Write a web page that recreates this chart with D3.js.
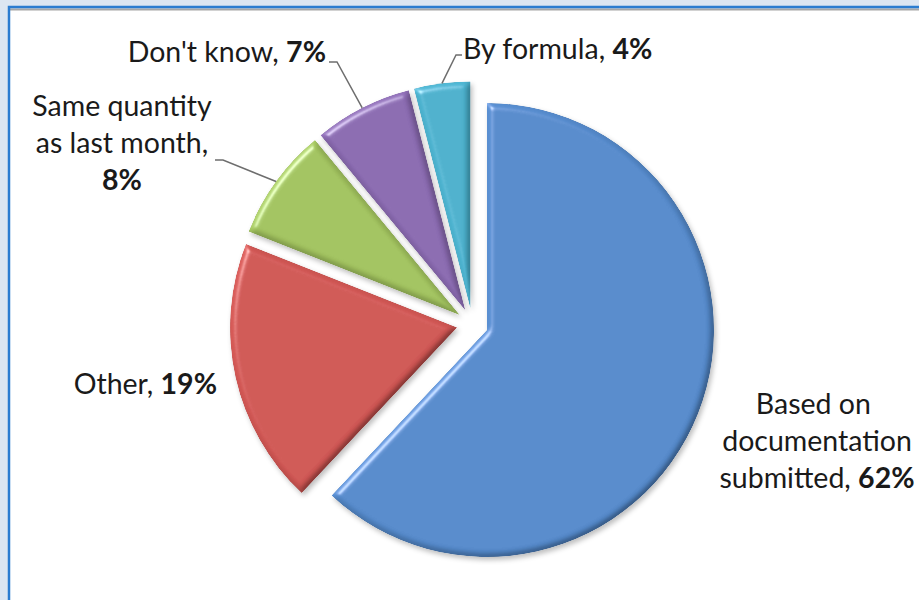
<!DOCTYPE html>
<html lang="en">
<head>
	<meta charset="UTF-8"/>
	<title>Exploded pie chart</title>
	<script src="https://d3js.org/d3.v7.min.js"></script>
	<style>
		body { margin: 0; background: #dce6f2; }
	</style>
</head>
<body>
	<div id="chart"></div>
	<script>
	//Window Size
	var w = 919;
	var h = 600;

	//Data
	var categories = ["Based on documentation submitted", "Other", "Same quantity as last month", "Don't know", "By formula"];
	var values = [62, 19, 8, 7, 4];
	//label text as it is wrapped in the chart (the percent goes after the last line)
	var labelLines = [["Based on ", "documentation", "submitted, "], ["Other, "], ["Same quantity", "as last month,", ""], ["Don't know, "], ["By formula, "]];
	var colors = ["#558acb", "#cf5653", "#a2c35f", "#8a6ab0", "#4bb0cc"];

	//Pie layout
	var cx = 472.4, cy = 324.2;
	var radius = 227;
	var explode = 15.7;
	var lineHeight = 37;

	//label placement (anchor point of the text, elbow of the leader line)
	var labelLayout = [
		{x: 817, y: 414, anchor: "middle", elbow: null},
		{x: 217, y: 394, anchor: "end", elbow: null},
		{x: 122, y: 116, anchor: "middle", elbow: [[215, 160], [223, 160]]},
		{x: 326, y: 62, anchor: "end", elbow: [[329, 62], [337, 62]]},
		{x: 463, y: 59, anchor: "start", elbow: [[462, 55], [456, 55]]}
	];

	var svg = d3.select("#chart")
				.append("svg")
				.attr("width", w)
				.attr("height", h);

	//frame
	svg.append("rect")
		.attr("x", 0).attr("y", 0)
		.attr("width", w).attr("height", h)
		.attr("fill", "#dce6f2");
	svg.append("rect")
		.attr("x", 10).attr("y", 9)
		.attr("width", w - 10).attr("height", h - 9)
		.attr("fill", "white");
	svg.append("path")
		.attr("d", "M10,9.5H" + w)
		.attr("stroke", "#a6a6a6")
		.attr("stroke-width", 2)
		.attr("fill", "none");
	svg.append("path")
		.attr("d", "M9," + h + "V7H" + w)
		.attr("stroke", "#2b7cd0")
		.attr("stroke-width", 2.5)
		.attr("fill", "none");

	//bevel filter (region given in the slice's own user space)
	var defs = svg.append("defs");
	var f = defs.append("filter")
		.attr("id", "bevel")
		.attr("filterUnits", "userSpaceOnUse")
		.attr("x", -w).attr("y", -h)
		.attr("width", 2 * w).attr("height", 2 * h);
	f.append("feGaussianBlur")
		.attr("in", "SourceAlpha")
		.attr("stdDeviation", 3)
		.attr("result", "blur");
	//soft shading: darker on the edges away from the light
	var light = f.append("feDiffuseLighting")
		.attr("in", "blur")
		.attr("surfaceScale", 5)
		.attr("diffuseConstant", 1)
		.attr("lighting-color", "white")
		.attr("result", "diffuse");
	light.append("feDistantLight")
		.attr("azimuth", 225)
		.attr("elevation", 50);
	var k1 = 0.75;
	f.append("feComposite")
		.attr("in", "SourceGraphic")
		.attr("in2", "diffuse")
		.attr("operator", "arithmetic")
		.attr("k1", k1)
		.attr("k2", 1 - k1 * Math.sin(50 * Math.PI / 180))
		.attr("k3", 0).attr("k4", 0)
		.attr("result", "shaded");
	//highlight on the edges that face the light
	var spec = f.append("feSpecularLighting")
		.attr("in", "blur")
		.attr("surfaceScale", 5)
		.attr("specularConstant", 0.8)
		.attr("specularExponent", 30)
		.attr("lighting-color", "white")
		.attr("result", "spec");
	spec.append("feDistantLight")
		.attr("azimuth", 225)
		.attr("elevation", 35);
	f.append("feComposite")
		.attr("in", "spec")
		.attr("in2", "SourceAlpha")
		.attr("operator", "in")
		.attr("result", "specIn");
	f.append("feComposite")
		.attr("in", "shaded")
		.attr("in2", "specIn")
		.attr("operator", "arithmetic")
		.attr("k1", 0).attr("k2", 1).attr("k3", 0.55).attr("k4", 0)
		.attr("result", "bright");
	f.append("feComposite")
		.attr("in", "bright")
		.attr("in2", "SourceAlpha")
		.attr("operator", "in")
		.attr("result", "lit");
	//drop shadow
	f.append("feGaussianBlur")
		.attr("in", "SourceAlpha")
		.attr("stdDeviation", 2.5)
		.attr("result", "sblur");
	f.append("feOffset")
		.attr("in", "sblur")
		.attr("dx", 2).attr("dy", 3)
		.attr("result", "soff");
	f.append("feFlood")
		.attr("flood-color", "#000")
		.attr("flood-opacity", 0.25);
	f.append("feComposite")
		.attr("in2", "soff")
		.attr("operator", "in")
		.attr("result", "shadow");
	var merge = f.append("feMerge");
	merge.append("feMergeNode").attr("in", "shadow");
	merge.append("feMergeNode").attr("in", "lit");

	var pie = d3.pie()
				.sort(null)
				.value(function(d) { return d; });

	var arcs = pie(values);

	var arc = d3.arc()
				.innerRadius(0)
				.outerRadius(radius);

	//arc at the rim, used for the end of leader lines
	var rimArc = d3.arc()
				.innerRadius(radius)
				.outerRadius(radius);

	function offset(d) {
		var mid = (d.startAngle + d.endAngle) / 2;
		return [explode * Math.sin(mid), -explode * Math.cos(mid)];
	}

	var g = svg.append("g")
		.attr("transform", "translate(" + cx + "," + cy + ")");

	g.selectAll("path.slice")
		.data(arcs)
		.enter()
		.append("path")
		.attr("class", "slice")
		.attr("d", arc)
		.attr("transform", function(d) {
			var o = offset(d);
			return "translate(" + o[0] + "," + o[1] + ")";
		})
		.attr("fill", function(d, i) { return colors[i]; })
		.attr("filter", "url(#bevel)");

	//leader lines
	svg.selectAll("polyline.leader")
		.data(arcs.filter(function(d, i) { return labelLayout[i].elbow; }))
		.enter()
		.append("polyline")
		.attr("class", "leader")
		.attr("points", function(d) {
			var o = offset(d);
			var c = rimArc.centroid(d);
			var pts = labelLayout[d.index].elbow.concat([[cx + o[0] + c[0], cy + o[1] + c[1]]]);
			return pts.map(function(p) { return p.join(","); }).join(" ");
		})
		.attr("fill", "none")
		.attr("stroke", "#6e6e6e")
		.attr("stroke-width", 1.5);

	//labels
	var labels = svg.selectAll("text.label")
		.data(arcs)
		.enter()
		.append("text")
		.attr("class", "label")
		.attr("text-anchor", function(d, i) { return labelLayout[i].anchor; })
		.attr("font-family", "Lato, 'Open Sans', sans-serif")
		.attr("font-size", "28.5px")
		.attr("fill", "#1a1a1a")
		.style("white-space", "pre");

	labels.each(function(d, i) {
		var t = d3.select(this);
		var lines = labelLines[i];
		lines.forEach(function(line, j) {
			var ts = t.append("tspan")
				.attr("x", labelLayout[i].x)
				.attr("y", labelLayout[i].y + j * lineHeight)
				.text(line);
			if (j == lines.length - 1) {
				ts.append("tspan")
					.attr("font-weight", "bold")
					.text(values[i] + "%");
			}
		});
	});
	</script>
</body>
</html>
